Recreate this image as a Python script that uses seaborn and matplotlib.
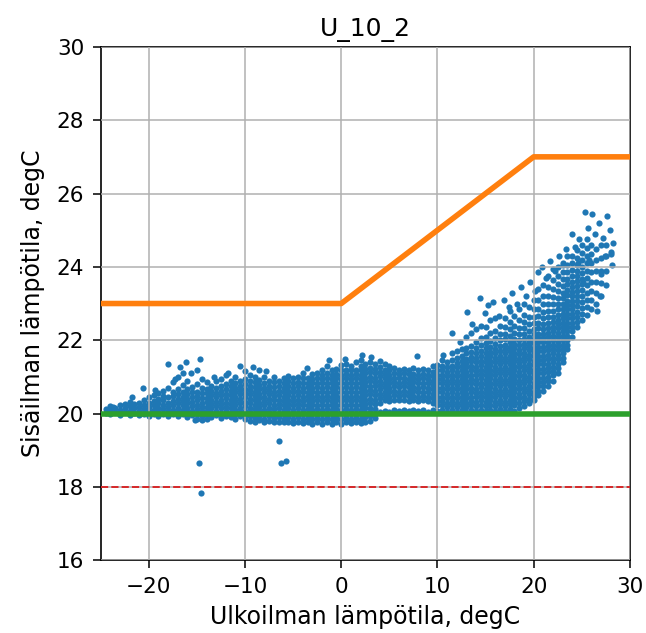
import matplotlib
matplotlib.use("Agg")
import matplotlib.pyplot as plt
import seaborn as sns
import pandas as pd

# Ulkolämpötilan sarakkeet (degC) ja niihin kuuluvat sisälämpötilat (degC), luettu kuvasta
ulko_sarake = [-24.5, -24.0, -23.5, -23.0, -22.5, -22.0, -21.5, -21.0, -20.5, -20.0,
               -19.5, -19.0, -18.5, -18.0, -17.5, -17.0, -16.5, -16.0, -15.5, -15.0,
               -14.5, -14.0, -13.5, -13.0, -12.5, -12.0, -11.5, -11.0, -10.5, -10.0,
               -9.5, -9.0, -8.5, -8.0, -7.5, -7.0, -6.5, -6.0, -5.5, -5.0,
               -4.5, -4.0, -3.5, -3.0, -2.5, -2.0, -1.5, -1.0, -0.5, 0.0,
               0.5, 1.0, 1.5, 2.0, 2.5, 3.0, 3.5, 4.0, 4.5, 5.0,
               5.5, 6.0, 6.5, 7.0, 7.5, 8.0, 8.5, 9.0, 9.5, 10.0,
               10.5, 11.0, 11.5, 12.0, 12.5, 13.0, 13.5, 14.0, 14.5, 15.0,
               15.5, 16.0, 16.5, 17.0, 17.5, 18.0, 18.5, 19.0, 19.5, 20.0,
               20.5, 21.0, 21.5, 22.0, 22.5, 23.0, 23.5, 24.0, 24.5, 25.0,
               25.5, 26.0, 26.5, 27.0, 27.5, 28.0]

sisa_sarake = [
    [20.02, 20.12],
    [19.98, 20.08, 20.2],
    [20.04, 20.16],
    [19.97, 20.1, 20.22],
    [20.03, 20.14, 20.26],
    [19.96, 20.08, 20.2, 20.32],
    [20.02, 20.14, 20.27],
    [19.95, 20.06, 20.18, 20.3],
    [20.0, 20.12, 20.24, 20.38],
    [19.94, 20.06, 20.18, 20.3, 20.44],
    [20.0, 20.1, 20.22, 20.35, 20.5],
    [19.93, 20.05, 20.16, 20.28, 20.4, 20.55],
    [20.0, 20.12, 20.24, 20.36, 20.48, 20.62],
    [19.94, 20.06, 20.18, 20.3, 20.44, 20.7],
    [20.0, 20.1, 20.22, 20.34, 20.48, 20.6, 20.85],
    [19.92, 20.04, 20.16, 20.28, 20.4, 20.52, 20.66, 21.0],
    [19.98, 20.1, 20.22, 20.34, 20.46, 20.6, 20.78, 21.1],
    [19.9, 20.04, 20.16, 20.28, 20.4, 20.52, 20.66, 20.9],
    [19.96, 20.08, 20.2, 20.32, 20.44, 20.58, 20.72],
    [19.86, 20.0, 20.12, 20.24, 20.36, 20.48, 20.6, 20.8, 21.2],
    [19.82, 19.94, 20.06, 20.18, 20.3, 20.42, 20.56, 20.7, 20.95],
    [19.95, 20.07, 20.19, 20.31, 20.43, 20.55, 20.68, 20.85],
    [19.9, 20.02, 20.14, 20.26, 20.38, 20.5, 20.62, 20.76],
    [19.96, 20.08, 20.2, 20.32, 20.44, 20.56, 20.7, 20.9],
    [19.88, 20.02, 20.14, 20.26, 20.38, 20.5, 20.62, 20.75, 20.95],
    [19.94, 20.06, 20.18, 20.3, 20.42, 20.54, 20.66, 20.8, 21.05],
    [19.9, 20.02, 20.14, 20.26, 20.38, 20.5, 20.62, 20.74, 20.88],
    [19.86, 19.98, 20.1, 20.22, 20.34, 20.46, 20.58, 20.7, 20.84, 21.0],
    [19.92, 20.04, 20.16, 20.28, 20.4, 20.52, 20.64, 20.76, 20.9],
    [19.84, 19.96, 20.08, 20.2, 20.32, 20.44, 20.56, 20.68, 20.8, 20.95, 21.15],
    [19.8, 19.92, 20.04, 20.16, 20.28, 20.4, 20.52, 20.64, 20.76, 20.9, 21.05],
    [19.78, 19.88, 20.0, 20.12, 20.24, 20.36, 20.48, 20.6, 20.72, 20.86, 21.0],
    [19.82, 19.94, 20.06, 20.18, 20.3, 20.42, 20.54, 20.66, 20.78, 20.92],
    [19.76, 19.86, 19.98, 20.1, 20.22, 20.34, 20.46, 20.58, 20.7, 20.84, 21.0],
    [19.8, 19.92, 20.04, 20.16, 20.28, 20.4, 20.52, 20.64, 20.76, 20.9],
    [19.76, 19.88, 20.0, 20.12, 20.24, 20.36, 20.48, 20.6, 20.72, 20.86, 21.0],
    [19.78, 19.9, 20.02, 20.14, 20.26, 20.38, 20.5, 20.62, 20.74, 20.88],
    [19.76, 19.86, 19.98, 20.1, 20.22, 20.34, 20.46, 20.58, 20.7, 20.84, 20.98],
    [19.78, 19.9, 20.02, 20.14, 20.26, 20.38, 20.5, 20.62, 20.74, 20.88, 21.02],
    [19.74, 19.86, 19.98, 20.1, 20.22, 20.34, 20.46, 20.58, 20.7, 20.82, 20.96],
    [19.78, 19.9, 20.02, 20.14, 20.26, 20.38, 20.5, 20.62, 20.74, 20.86, 21.0],
    [19.74, 19.86, 19.98, 20.1, 20.22, 20.34, 20.46, 20.58, 20.7, 20.82, 20.96, 21.1],
    [19.76, 19.88, 20.0, 20.12, 20.24, 20.36, 20.48, 20.6, 20.72, 20.84, 20.98],
    [19.72, 19.86, 19.98, 20.1, 20.22, 20.34, 20.46, 20.58, 20.7, 20.82, 20.94, 21.08],
    [19.76, 19.88, 20.0, 20.12, 20.24, 20.36, 20.48, 20.6, 20.72, 20.84, 20.96, 21.1],
    [19.72, 19.86, 19.98, 20.1, 20.22, 20.34, 20.46, 20.58, 20.7, 20.82, 20.94, 21.06, 21.2],
    [19.76, 19.88, 20.0, 20.12, 20.24, 20.36, 20.48, 20.6, 20.72, 20.84, 20.96, 21.1, 21.3],
    [19.72, 19.86, 19.98, 20.1, 20.22, 20.34, 20.46, 20.58, 20.7, 20.82, 20.94, 21.06, 21.2],
    [19.76, 19.88, 20.0, 20.12, 20.24, 20.36, 20.48, 20.6, 20.72, 20.84, 20.96, 21.08, 21.22],
    [19.72, 19.86, 19.98, 20.1, 20.22, 20.34, 20.46, 20.58, 20.7, 20.82, 20.94, 21.06, 21.18, 21.32],
    [19.76, 19.88, 20.0, 20.12, 20.24, 20.36, 20.48, 20.6, 20.72, 20.84, 20.96, 21.08, 21.2, 21.35],
    [19.74, 19.86, 19.98, 20.1, 20.22, 20.34, 20.46, 20.58, 20.7, 20.82, 20.94, 21.06, 21.18, 21.3],
    [19.76, 19.88, 20.0, 20.12, 20.24, 20.36, 20.48, 20.6, 20.72, 20.84, 20.96, 21.08, 21.2, 21.4],
    [19.74, 19.86, 19.98, 20.1, 20.22, 20.34, 20.46, 20.58, 20.7, 20.82, 20.94, 21.06, 21.18, 21.3, 21.45],
    [19.78, 19.9, 20.02, 20.14, 20.26, 20.38, 20.5, 20.62, 20.74, 20.86, 20.98, 21.1, 21.22, 21.36],
    [19.8, 19.92, 20.04, 20.16, 20.28, 20.4, 20.52, 20.64, 20.76, 20.88, 21.0, 21.12, 21.24, 21.4],
    [19.88, 20.0, 20.12, 20.26, 20.38, 20.5, 20.62, 20.74, 20.86, 20.98, 21.1, 21.22, 21.36],
    [20.04, 20.3, 20.42, 20.54, 20.66, 20.78, 20.9, 21.02, 21.14, 21.26, 21.42],
    [20.08, 20.36, 20.48, 20.6, 20.72, 20.84, 20.96, 21.08, 21.2, 21.36],
    [20.05, 20.34, 20.46, 20.58, 20.7, 20.82, 20.94, 21.06, 21.18, 21.3],
    [20.1, 20.38, 20.5, 20.62, 20.74, 20.86, 20.98, 21.1, 21.24],
    [20.06, 20.36, 20.48, 20.6, 20.72, 20.84, 20.96, 21.08, 21.2],
    [20.1, 20.38, 20.5, 20.62, 20.74, 20.86, 20.98, 21.1, 21.22],
    [20.06, 20.35, 20.47, 20.59, 20.71, 20.83, 20.95, 21.07, 21.19],
    [20.1, 20.37, 20.49, 20.61, 20.73, 20.85, 20.97, 21.09, 21.25],
    [20.06, 20.34, 20.46, 20.58, 20.7, 20.82, 20.94, 21.06, 21.18],
    [20.1, 20.36, 20.48, 20.6, 20.72, 20.84, 20.96, 21.08, 21.22],
    [20.05, 20.34, 20.46, 20.58, 20.7, 20.82, 20.94, 21.06, 21.2],
    [20.1, 20.3, 20.42, 20.54, 20.66, 20.78, 20.9, 21.02, 21.14, 21.3],
    [20.06, 20.22, 20.34, 20.46, 20.58, 20.7, 20.82, 20.94, 21.06, 21.18, 21.32],
    [20.1, 20.22, 20.34, 20.46, 20.58, 20.7, 20.82, 20.94, 21.06, 21.18, 21.3, 21.45],
    [20.05, 20.18, 20.3, 20.42, 20.54, 20.66, 20.78, 20.9, 21.02, 21.14, 21.26, 21.4],
    [20.1, 20.22, 20.34, 20.46, 20.58, 20.7, 20.82, 20.94, 21.06, 21.18, 21.3, 21.45, 21.65],
    [20.05, 20.18, 20.3, 20.42, 20.54, 20.66, 20.78, 20.9, 21.02, 21.14, 21.26, 21.38, 21.52, 21.7],
    [20.1, 20.22, 20.34, 20.46, 20.58, 20.7, 20.82, 20.94, 21.06, 21.18, 21.3, 21.42, 21.56, 21.75],
    [20.05, 20.18, 20.3, 20.42, 20.54, 20.66, 20.78, 20.9, 21.02, 21.14, 21.26, 21.38, 21.5, 21.64, 21.8, 22.1],
    [20.1, 20.22, 20.34, 20.46, 20.58, 20.7, 20.82, 20.94, 21.06, 21.18, 21.3, 21.42, 21.54, 21.68, 21.85, 22.2],
    [20.06, 20.2, 20.32, 20.44, 20.56, 20.68, 20.8, 20.92, 21.04, 21.16, 21.28, 21.4, 21.52, 21.64, 21.78, 21.95, 22.3],
    [20.1, 20.24, 20.36, 20.48, 20.6, 20.72, 20.84, 20.96, 21.08, 21.2, 21.32, 21.44, 21.56, 21.7, 21.86, 22.05, 22.4],
    [20.06, 20.2, 20.32, 20.44, 20.56, 20.68, 20.8, 20.92, 21.04, 21.16, 21.28, 21.4, 21.52, 21.64, 21.78, 21.92, 22.1, 22.35],
    [20.1, 20.24, 20.36, 20.48, 20.6, 20.72, 20.84, 20.96, 21.08, 21.2, 21.32, 21.44, 21.56, 21.68, 21.82, 21.98, 22.2, 22.55],
    [20.06, 20.2, 20.32, 20.44, 20.56, 20.68, 20.8, 20.92, 21.04, 21.16, 21.28, 21.4, 21.52, 21.64, 21.76, 21.9, 22.06, 22.25, 22.6],
    [20.12, 20.26, 20.38, 20.5, 20.62, 20.74, 20.86, 20.98, 21.1, 21.22, 21.34, 21.46, 21.58, 21.7, 21.84, 22.0, 22.18, 22.4],
    [20.06, 20.2, 20.32, 20.44, 20.56, 20.68, 20.8, 20.92, 21.04, 21.16, 21.28, 21.4, 21.52, 21.64, 21.76, 21.88, 22.02, 22.18, 22.36, 22.6],
    [20.12, 20.26, 20.38, 20.5, 20.62, 20.74, 20.86, 20.98, 21.1, 21.22, 21.34, 21.46, 21.58, 21.7, 21.82, 21.96, 22.12, 22.3, 22.5, 22.8],
    [20.08, 20.22, 20.34, 20.46, 20.58, 20.7, 20.82, 20.94, 21.06, 21.18, 21.3, 21.42, 21.54, 21.66, 21.78, 21.9, 22.04, 22.2, 22.4, 22.65],
    [20.16, 20.3, 20.42, 20.54, 20.66, 20.78, 20.9, 21.02, 21.14, 21.26, 21.38, 21.5, 21.62, 21.74, 21.86, 22.0, 22.16, 22.34, 22.55, 22.85],
    [20.2, 20.34, 20.46, 20.58, 20.7, 20.82, 20.94, 21.06, 21.18, 21.3, 21.42, 21.54, 21.66, 21.78, 21.9, 22.02, 22.16, 22.32, 22.5, 22.7, 23.0],
    [20.28, 20.4, 20.52, 20.64, 20.76, 20.88, 21.0, 21.12, 21.24, 21.36, 21.48, 21.6, 21.72, 21.84, 21.96, 22.1, 22.26, 22.44, 22.64, 22.9],
    [20.36, 20.48, 20.6, 20.72, 20.84, 20.96, 21.08, 21.2, 21.32, 21.44, 21.56, 21.68, 21.8, 21.92, 22.04, 22.16, 22.3, 22.46, 22.64, 22.85, 23.1],
    [20.5, 20.62, 20.74, 20.86, 20.98, 21.1, 21.22, 21.34, 21.46, 21.58, 21.7, 21.82, 21.94, 22.06, 22.18, 22.32, 22.48, 22.66, 22.86, 23.1, 23.4],
    [20.62, 20.74, 20.86, 20.98, 21.1, 21.22, 21.34, 21.46, 21.58, 21.7, 21.82, 21.94, 22.06, 22.18, 22.3, 22.44, 22.6, 22.78, 22.98, 23.2, 23.5],
    [20.75, 20.88, 21.0, 21.12, 21.24, 21.36, 21.48, 21.6, 21.72, 21.84, 21.96, 22.08, 22.2, 22.32, 22.46, 22.62, 22.8, 23.0, 23.2, 23.45, 23.75],
    [20.9, 21.04, 21.16, 21.28, 21.4, 21.52, 21.64, 21.76, 21.88, 22.0, 22.12, 22.24, 22.36, 22.5, 22.64, 22.8, 22.98, 23.18, 23.4, 23.65, 23.95],
    [21.1, 21.24, 21.36, 21.48, 21.6, 21.72, 21.84, 21.96, 22.08, 22.2, 22.32, 22.44, 22.56, 22.7, 22.84, 23.0, 23.16, 23.34, 23.54, 23.76, 24.0],
    [21.4, 21.52, 21.64, 21.76, 21.88, 22.0, 22.12, 22.24, 22.36, 22.48, 22.6, 22.72, 22.86, 23.0, 23.14, 23.3, 23.48, 23.66, 23.86, 24.1],
    [21.75, 21.88, 22.0, 22.12, 22.24, 22.36, 22.48, 22.6, 22.72, 22.84, 22.96, 23.08, 23.22, 23.36, 23.52, 23.68, 23.86, 24.06, 24.3],
    [22.1, 22.24, 22.36, 22.48, 22.6, 22.72, 22.84, 22.96, 23.08, 23.2, 23.32, 23.46, 23.6, 23.76, 23.92, 24.1, 24.3],
    [22.35, 22.5, 22.64, 22.78, 22.92, 23.06, 23.2, 23.34, 23.48, 23.62, 23.76, 23.9, 24.06, 24.24, 24.45],
    [22.55, 22.72, 22.88, 23.04, 23.2, 23.36, 23.52, 23.68, 23.84, 24.0, 24.18, 24.38, 24.6],
    [22.7, 22.9, 23.1, 23.3, 23.5, 23.7, 23.9, 24.1, 24.3, 24.52, 24.75],
    [22.85, 23.1, 23.35, 23.6, 23.85, 24.1, 24.35, 24.6],
    [23.0, 23.3, 23.6, 23.9, 24.2, 24.5],
    [23.2, 23.55, 23.9, 24.25, 24.6],
    [23.5, 23.9, 24.3, 24.6],
    [24.35],
]

# Yksittäiset hajapisteet pilven reunoilla (ulko, sisä)
haja_ulko = [-23.75, -21.8, -20.6, -19.4, -18.0, -16.8, -16.1, -14.7, -17.3, -15.6,
             -13.2, -11.8, -10.5, -9.2, -8.6, -7.8, -14.8, -14.6, -6.5, -6.3,
             -5.7, -15.2, -14.0, -3.6, -1.3, 0.4, 2.2, 3.1, 7.85, 10.6,
             11.5, 12.3, 13.1, 13.6, 14.4, 14.9, 15.3, 15.8, 16.4, 16.9,
             17.4, 17.8, 18.3, 18.7, 19.2, 19.6, 20.1, 20.4, 20.9, 21.3,
             21.7, 22.2, 22.6, 23.1, 23.4, 24.0, 24.3, 24.7, 25.3, 25.6,
             26.1, 26.4, 26.8, 27.2, 27.6, 27.9, 28.1, 28.2, 27.4, 26.9,
             26.6, 28.0, 27.0, 25.8, 25.1, 24.6]
haja_sisa = [20.17, 20.45, 20.7, 20.64, 21.35, 21.27, 21.4, 21.5, 20.95, 21.1,
             21.0, 21.1, 21.3, 21.27, 21.2, 21.15, 18.65, 17.83, 19.25, 18.65,
             18.7, 19.82, 19.85, 21.25, 21.45, 21.5, 21.6, 21.55, 21.57, 21.6,
             22.2, 21.95, 22.77, 22.45, 23.15, 22.75, 22.95, 23.05, 22.65, 23.1,
             22.9, 23.3, 23.0, 23.45, 23.2, 23.6, 23.35, 23.85, 24.0, 23.7,
             24.15, 23.9, 24.3, 24.05, 24.5, 24.9, 24.55, 24.75, 25.5, 25.05,
             25.44, 24.9, 25.2, 24.8, 25.4, 25.0, 24.05, 24.65, 24.3, 23.2,
             22.8, 24.4, 23.8, 24.2, 23.6, 24.1]

# Raja-arvot: yläraja (murtoviiva), tavoite ja alaraja
yla_x = [-25, 0, 20, 30]
yla_y = [23, 23, 27, 27]
tavoite = 20
alaraja = 18

x_all = [x for x, ys in zip(ulko_sarake, sisa_sarake) for _ in ys] + haja_ulko
y_all = [y for ys in sisa_sarake for y in ys] + haja_sisa
df = pd.DataFrame({'ulko': x_all, 'sisa': y_all})

fig, ax = plt.subplots(figsize=(6.46, 6.33), dpi=100)
fig.subplots_adjust(left=0.156, right=0.975, bottom=0.115, top=0.926)

sns.scatterplot(data=df, x='ulko', y='sisa', s=20, linewidth=0, color='tab:blue', ax=ax, zorder=1)
ax.plot(yla_x, yla_y, color='tab:orange', linewidth=4, zorder=3)
ax.axhline(tavoite, color='tab:green', linewidth=4, zorder=3)
ax.axhline(alaraja, color='tab:red', linewidth=1.4, linestyle='--', zorder=3)

ax.set_xlim(-25, 30)
ax.set_ylim(16, 30)
ax.set_xticks([-20, -10, 0, 10, 20, 30])
ax.set_yticks([16, 18, 20, 22, 24, 26, 28, 30])
ax.grid(True, color='#b0b0b0', linewidth=1.1)
ax.set_axisbelow(False)

ax.set_title('U_10_2', fontsize=18, pad=8)
ax.set_xlabel('Ulkoilman lämpötila, degC', fontsize=17, labelpad=6)
ax.set_ylabel('Sisäilman lämpötila, degC', fontsize=17, labelpad=8)
ax.tick_params(axis='both', labelsize=15.5, length=6, width=1.1, pad=6)
for sp in ax.spines.values():
    sp.set_linewidth(1.2)

plt.savefig('out.png', dpi=100)
